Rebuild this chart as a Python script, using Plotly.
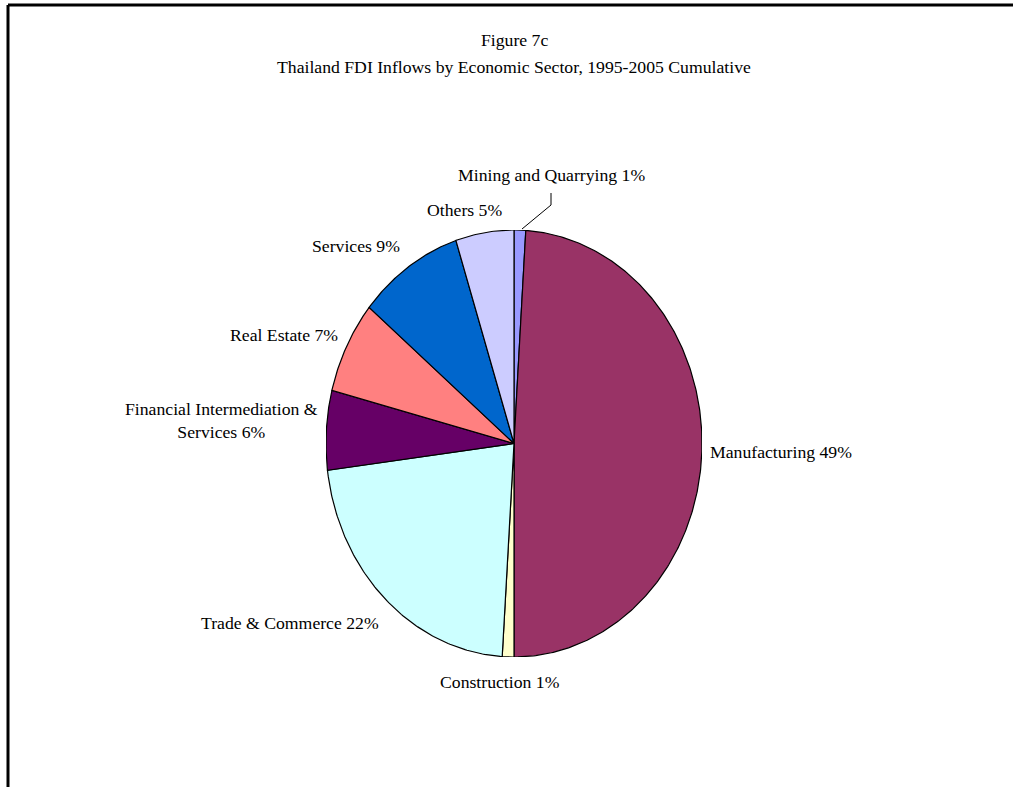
import numpy as np
import plotly.graph_objects as go

W, H = 1013, 787

# Sector shares (%) listed clockwise from 12 o'clock
sectors = ["Mining and Quarrying", "Manufacturing", "Construction", "Trade & Commerce",
           "Financial Intermediation & Services", "Real Estate", "Services", "Others"]
shares = [1, 49, 1, 22, 6, 7, 9, 5]
colors = ["#9999FF", "#993366", "#FFFFCC", "#CCFFFF",
          "#660066", "#FF8080", "#0066CC", "#CCCCFF"]
# display names (line break for the long one)
display_names = ["Mining and Quarrying", "Manufacturing", "Construction", "Trade & Commerce",
                 "Financial Intermediation &<br>Services", "Real Estate", "Services", "Others"]

# label centres in page pixels
label_px = [(551, 175), (781, 452), (500, 682), (290, 623),
            (221, 420), (284, 335), (356, 246), (464, 210)]

# pie bounding box in page pixels (the pie is drawn slightly taller than wide)
PIE_LEFT, PIE_RIGHT, PIE_TOP, PIE_BOTTOM = 326, 702, 230, 657

FONT = "Liberation Serif, Times New Roman, serif"
FS = 17.7


def px_x(x):
    return x / W


def px_y(y):
    return 1 - y / H


fig = go.Figure()

total = float(sum(shares))
start = 0.0
for name, val, col in zip(sectors, shares, colors):
    a0 = start / total * 2 * np.pi
    a1 = (start + val) / total * 2 * np.pi
    t = np.linspace(a0, a1, max(8, int(val * 6)))
    xs = np.concatenate([[0], np.sin(t), [0]])
    ys = np.concatenate([[0], np.cos(t), [0]])
    fig.add_trace(go.Scatter(
        x=xs, y=ys, mode="lines", fill="toself", fillcolor=col,
        line=dict(color="black", width=1.2),
        hoveron="fills", hoverinfo="text", text=f"{name}: {val}%",
        showlegend=False,
    ))
    start += val

annotations = []
for disp, val, (lx, ly) in zip(display_names, shares, label_px):
    annotations.append(dict(
        x=px_x(lx), y=px_y(ly), xref="paper", yref="paper",
        text=f"{disp} {val}%", showarrow=False,
        xanchor="center", yanchor="middle", align="center",
        font=dict(family=FONT, size=FS, color="black"),
    ))

annotations.append(dict(x=px_x(514), y=px_y(40), xref="paper", yref="paper",
                        text="Figure 7c", showarrow=False, xanchor="center", yanchor="middle",
                        font=dict(family=FONT, size=FS, color="black")))
annotations.append(dict(x=px_x(514), y=px_y(67), xref="paper", yref="paper",
                        text="Thailand FDI Inflows by Economic Sector, 1995-2005 Cumulative",
                        showarrow=False, xanchor="center", yanchor="middle",
                        font=dict(family=FONT, size=FS, color="black")))

shapes = [
    # leader line for the small mining slice
    dict(type="line", xref="paper", yref="paper",
         x0=px_x(551), y0=px_y(193), x1=px_x(551), y1=px_y(205),
         line=dict(color="black", width=1)),
    dict(type="line", xref="paper", yref="paper",
         x0=px_x(551), y0=px_y(205), x1=px_x(522), y1=px_y(229),
         line=dict(color="black", width=1)),
    # chart frame: left and top edges, running off the page
    dict(type="line", xref="paper", yref="paper",
         x0=px_x(8), y0=0, x1=px_x(8), y1=px_y(5),
         line=dict(color="black", width=3)),
    dict(type="line", xref="paper", yref="paper",
         x0=px_x(8), y0=px_y(5), x1=1, y1=px_y(5),
         line=dict(color="black", width=3)),
]

fig.update_layout(
    width=W, height=H,
    margin=dict(l=0, r=0, t=0, b=0),
    paper_bgcolor="white", plot_bgcolor="white",
    xaxis=dict(domain=[px_x(PIE_LEFT), px_x(PIE_RIGHT)], range=[-1, 1],
               visible=False, fixedrange=True),
    yaxis=dict(domain=[px_y(PIE_BOTTOM), px_y(PIE_TOP)], range=[-1, 1],
               visible=False, fixedrange=True),
    annotations=annotations,
    shapes=shapes,
    showlegend=False,
)

fig.write_html("out.html")
